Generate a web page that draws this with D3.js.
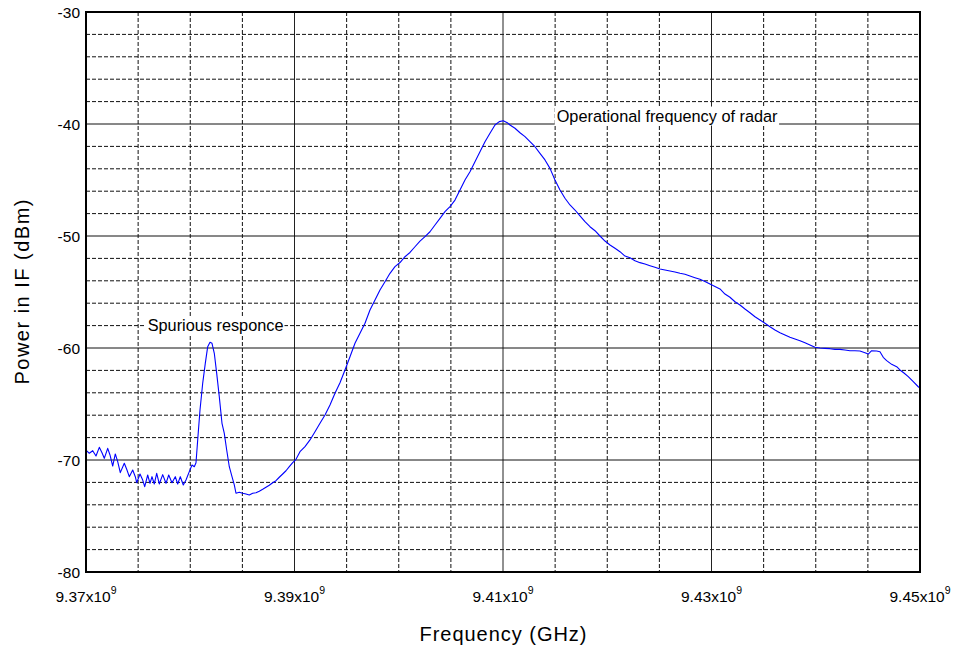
<!DOCTYPE html>
<html>
<head>
<meta charset="utf-8">
<script src="https://cdn.jsdelivr.net/npm/d3@7"></script>
<style>
  html, body { margin: 0; padding: 0; background: #fff; }
  svg { display: block; font-family: Arial, "Liberation Sans", sans-serif; }
</style>
</head>
<body>
<svg id="chart" width="954" height="648"></svg>
<script>
// ---------- data (frequency in MHz, power in dBm) ----------
const freqMHz = [
  9370.000, 9370.317, 9370.643, 9370.959, 9371.276, 9371.535, 9371.755, 9372.081, 9372.302, 9372.561,
  9372.810, 9373.041, 9373.290, 9373.674, 9373.904, 9374.153, 9374.480, 9374.729, 9374.863, 9375.180,
  9375.439, 9375.631, 9375.918, 9376.139, 9376.331, 9376.551, 9376.782, 9377.031, 9377.357, 9377.674,
  9377.933, 9378.249, 9378.566, 9378.796, 9379.045, 9379.333, 9379.592, 9379.909, 9380.168, 9380.388,
  9380.551, 9380.714, 9380.935, 9381.194, 9381.443, 9381.674, 9381.894, 9382.086, 9382.307, 9382.537,
  9382.786, 9383.045, 9383.266, 9383.496, 9383.745, 9384.004, 9384.225, 9384.388, 9384.705, 9385.031,
  9385.347, 9385.664, 9385.990, 9386.306, 9386.623, 9386.949, 9387.266, 9387.582, 9387.908, 9388.225,
  9388.541, 9388.868, 9389.184, 9389.501, 9389.827, 9390.143, 9390.527, 9391.007, 9391.486, 9391.966,
  9392.445, 9392.925, 9393.404, 9393.884, 9394.364, 9394.843, 9395.323, 9395.802, 9396.282, 9396.762,
  9397.241, 9397.721, 9398.200, 9398.680, 9399.160, 9399.639, 9400.119, 9400.598, 9401.078, 9401.557,
  9402.037, 9402.517, 9402.996, 9403.476, 9403.955, 9404.435, 9404.915, 9405.394, 9405.874, 9406.353,
  9406.833, 9407.312, 9407.792, 9408.272, 9408.751, 9409.231, 9409.643, 9410.027, 9410.411, 9410.670,
  9411.149, 9411.629, 9412.109, 9412.588, 9413.068, 9413.547, 9414.027, 9414.507, 9414.986, 9415.466,
  9415.945, 9416.425, 9416.904, 9417.384, 9417.864, 9418.343, 9418.823, 9419.302, 9419.782, 9420.262,
  9420.741, 9421.221, 9421.700, 9422.180, 9422.659, 9423.139, 9423.619, 9424.098, 9424.578, 9425.057,
  9425.537, 9426.017, 9426.496, 9426.976, 9427.455, 9427.935, 9428.414, 9428.894, 9429.374, 9429.853,
  9430.333, 9430.812, 9431.292, 9431.772, 9432.251, 9432.731, 9433.210, 9433.690, 9434.170, 9434.649,
  9435.129, 9435.608, 9436.088, 9436.567, 9437.047, 9437.527, 9438.006, 9438.486, 9438.965, 9439.445,
  9439.925, 9440.404, 9440.884, 9441.363, 9441.843, 9442.322, 9442.802, 9443.282, 9443.761, 9444.241,
  9444.720, 9445.037, 9445.363, 9445.843, 9446.160, 9446.476, 9446.802, 9447.282, 9447.762, 9448.078,
  9448.462, 9448.874, 9449.354, 9449.834, 9450.000
];
const powerDBm = [
  -69.11, -69.40, -69.17, -69.64, -68.87, -69.35, -69.85, -68.96, -69.55, -70.54,
  -69.46, -70.15, -71.13, -70.29, -70.83, -71.49, -70.89, -71.49, -72.03, -71.25,
  -71.79, -72.38, -71.34, -72.08, -71.49, -72.14, -71.19, -72.14, -71.31, -72.08,
  -71.34, -72.03, -71.49, -72.14, -71.49, -72.23, -71.79, -71.04, -70.45, -70.60,
  -70.24, -68.21, -65.54, -63.15, -61.37, -59.88, -59.49, -59.58, -60.47, -62.26,
  -64.35, -66.72, -67.62, -69.11, -70.60, -71.49, -72.23, -72.97, -72.88, -72.97,
  -73.04, -73.13, -72.97, -72.92, -72.79, -72.62, -72.44, -72.26, -72.03, -71.85,
  -71.54, -71.25, -70.96, -70.60, -70.24, -69.94, -69.26, -68.81, -68.21, -67.47,
  -66.72, -65.98, -65.09, -64.04, -63.10, -61.96, -60.78, -59.58, -58.69, -57.79,
  -56.61, -55.71, -54.82, -54.08, -53.33, -52.74, -52.37, -51.85, -51.47, -50.96,
  -50.45, -50.06, -49.62, -49.02, -48.42, -47.83, -47.38, -46.79, -45.89, -45.00,
  -44.26, -43.37, -42.47, -41.58, -40.83, -40.09, -39.79, -39.71, -39.88, -40.09,
  -40.38, -40.78, -41.13, -41.58, -42.03, -42.62, -43.21, -43.96, -45.00, -45.89,
  -46.63, -47.23, -47.68, -48.21, -48.72, -49.17, -49.53, -50.00, -50.45, -50.80,
  -51.10, -51.40, -51.79, -51.94, -52.21, -52.38, -52.50, -52.65, -52.79, -52.95,
  -53.04, -53.13, -53.21, -53.33, -53.42, -53.57, -53.72, -53.87, -54.06, -54.29,
  -54.51, -54.73, -55.18, -55.47, -55.87, -56.16, -56.52, -56.85, -57.21, -57.50,
  -57.79, -58.10, -58.39, -58.63, -58.84, -59.04, -59.20, -59.35, -59.53, -59.73,
  -59.94, -60.00, -60.03, -60.06, -60.12, -60.12, -60.18, -60.24, -60.24, -60.27,
  -60.42, -60.54, -60.24, -60.27, -60.33, -60.83, -61.13, -61.46, -61.67, -61.96,
  -62.23, -62.56, -63.01, -63.46, -63.57
];
const xTicksMHz = [9370, 9390, 9410, 9430, 9450];
const xTickMantissa = ["9.37", "9.39", "9.41", "9.43", "9.45"];
const yTicks = [-30, -40, -50, -60, -70, -80];
const annotations = [
  { text: "Spurious responce", f: 9375.92, p: -58.48 },
  { text: "Operational frequency of radar", f: 9415.15, p: -39.78 }
];

// ---------- layout ----------
const W = 954, H = 648;
const m = { left: 86, top: 12, right: 34, bottom: 76 };
const iw = W - m.left - m.right, ih = H - m.top - m.bottom;

const svg = d3.select("#chart");
const g = svg.append("g").attr("transform", `translate(${m.left},${m.top})`);

const x = d3.scaleLinear().domain([9370, 9450]).range([0, iw]);
const y = d3.scaleLinear().domain([-80, -30]).range([ih, 0]);

// minor grid (dashed)
const xMinor = d3.range(9375, 9450, 5).filter(v => !xTicksMHz.includes(v));
const yMinor = d3.range(-78, -30, 2).filter(v => v % 10 !== 0);
g.append("g").selectAll("line").data(xMinor).join("line")
  .attr("x1", d => x(d)).attr("x2", d => x(d)).attr("y1", 0).attr("y2", ih)
  .attr("stroke", "#111").attr("stroke-width", 1).attr("stroke-dasharray", "4,2");
g.append("g").selectAll("line").data(yMinor).join("line")
  .attr("y1", d => y(d)).attr("y2", d => y(d)).attr("x1", 0).attr("x2", iw)
  .attr("stroke", "#111").attr("stroke-width", 1).attr("stroke-dasharray", "4,2");

// major grid (solid)
g.append("g").selectAll("line").data(xTicksMHz.slice(1, -1)).join("line")
  .attr("x1", d => x(d)).attr("x2", d => x(d)).attr("y1", 0).attr("y2", ih)
  .attr("stroke", "#222").attr("stroke-width", 1);
g.append("g").selectAll("line").data(yTicks.slice(1, -1)).join("line")
  .attr("y1", d => y(d)).attr("y2", d => y(d)).attr("x1", 0).attr("x2", iw)
  .attr("stroke", "#111").attr("stroke-width", 1);

// annotations with white background boxes (placed under the curve)
const annoG = g.append("g");
annotations.forEach(a => {
  const t = annoG.append("text").attr("x", x(a.f)).attr("y", y(a.p))
    .attr("font-size", 16.3).attr("fill", "#000").text(a.text);
  const bb = t.node().getBBox();
  annoG.insert("rect", "text")
    .attr("x", bb.x - 2).attr("y", y(a.p) - 15).attr("width", bb.width + 3).attr("height", 19)
    .attr("fill", "#fff");
});

// curve
const line = d3.line().x((d, i) => x(freqMHz[i])).y(d => y(d));
g.append("path").datum(powerDBm)
  .attr("d", line).attr("fill", "none")
  .attr("stroke", "#0000ff").attr("stroke-width", 1.1).attr("stroke-linejoin", "round");

// frame
g.append("rect").attr("x", 0).attr("y", 0).attr("width", iw).attr("height", ih)
  .attr("fill", "none").attr("stroke", "#000").attr("stroke-width", 2);

// y tick labels
g.append("g").selectAll("text").data(yTicks).join("text")
  .attr("x", -6).attr("y", d => y(d) + 5.5)
  .attr("text-anchor", "end").attr("font-size", 15.5)
  .text(d => d);

// x tick labels with superscript exponent
const xl = g.append("g").selectAll("text").data(xTicksMHz).join("text")
  .attr("x", d => x(d)).attr("y", ih + 30)
  .attr("text-anchor", "middle").attr("font-size", 15.5);
xl.append("tspan").text((d, i) => xTickMantissa[i] + "x10");
xl.append("tspan").attr("dy", -8).attr("font-size", 10.5).text("9");

// axis titles
svg.append("text").attr("x", m.left + iw / 2).attr("y", 641)
  .attr("text-anchor", "middle").attr("font-size", 20)
  .attr("textLength", 167).attr("lengthAdjust", "spacing").text("Frequency (GHz)");
svg.append("text").attr("transform", `translate(29,${m.top + ih / 2}) rotate(-90)`)
  .attr("text-anchor", "middle").attr("font-size", 20)
  .attr("textLength", 185).attr("lengthAdjust", "spacing").text("Power in IF (dBm)");
</script>
</body>
</html>
